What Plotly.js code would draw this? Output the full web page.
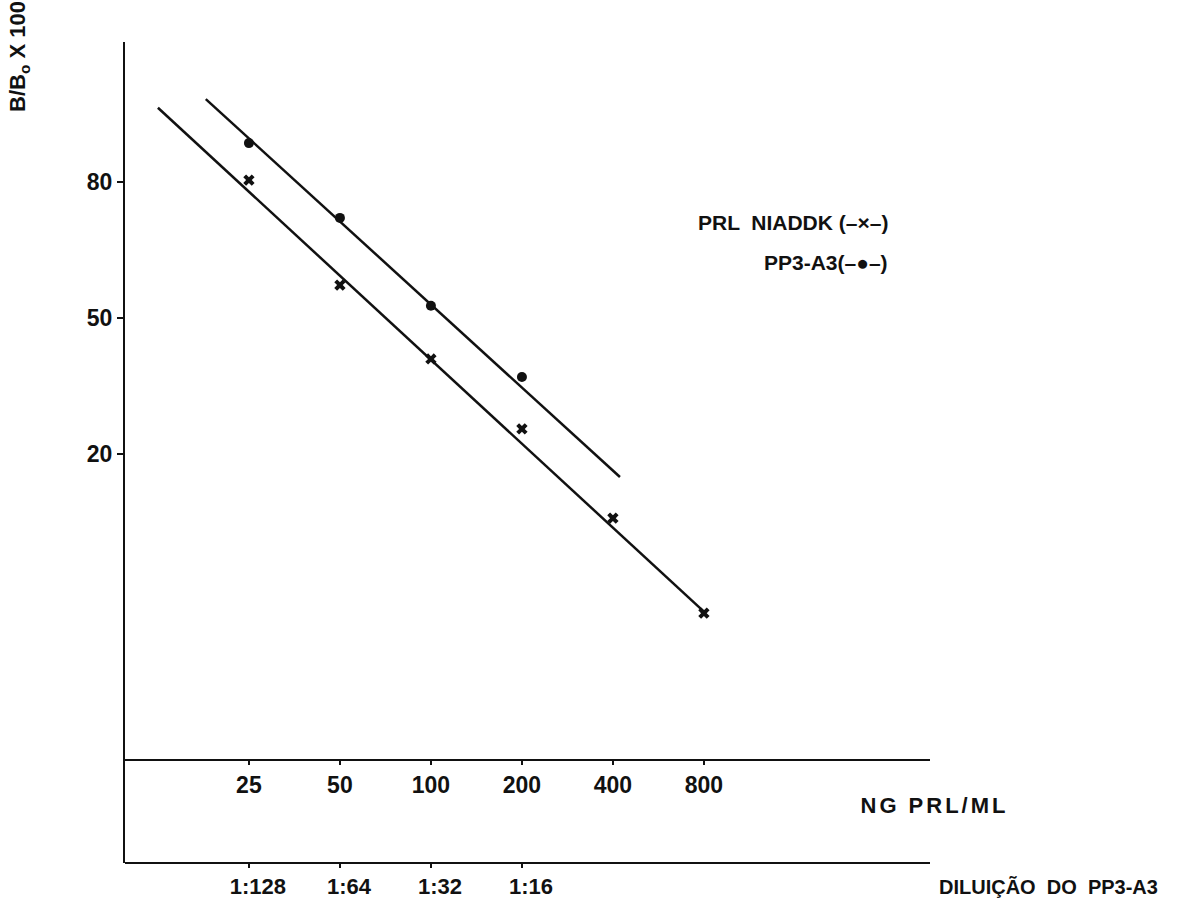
<!DOCTYPE html>
<html>
<head>
<meta charset="utf-8">
<script src="https://cdn.plot.ly/plotly-3.0.1.min.js"></script>
<style>html,body{margin:0;padding:0;background:#fff;}#chart{width:1177px;height:908px;}</style>
</head>
<body>
<div id="chart"></div>
<script>
// ---- data ----
const ngDoses = [25, 50, 100, 200, 400, 800];            // NG PRL/ML
const prlNiaddk = [80.3, 58.3, 39.7, 24.4, 11.5, 4.7];     // B/Bo x 100, standard
const pp3Doses = [25, 50, 100, 200];                       // positions of dilutions
const pp3A3 = [85.6, 73.5, 53.1, 35.4];                    // B/Bo x 100, PP3-A3
const dilutionLabels = ['1:128', '1:64', '1:32', '1:16'];
const prlFitX = [12.5, 810];
const prlFitY = [89.5, 4.7];
const pp3FitX = [18.0, 422];
const pp3FitY = [90.3, 16.5];
const yTickVals = [20, 50, 80];

// logit transform for the B/Bo scale
const logit = p => Math.log(p / (100 - p));

const FONT = 'Liberation Sans, Arial, sans-serif';
const INK = '#111';
const F = (size) => ({family: FONT, size: size, color: INK, weight: 'bold'});

const traces = [
  {x: prlFitX, y: prlFitY.map(logit), mode: 'lines', line: {color: INK, width: 2.5}, xaxis: 'x', yaxis: 'y', hoverinfo: 'skip'},
  {x: pp3FitX, y: pp3FitY.map(logit), mode: 'lines', line: {color: INK, width: 2.5}, xaxis: 'x2', yaxis: 'y', hoverinfo: 'skip'},
  {x: ngDoses, y: prlNiaddk.map(logit), mode: 'markers', name: 'PRL NIADDK',
   marker: {symbol: 'x', size: 10, color: INK, line: {width: 0}}, xaxis: 'x', yaxis: 'y'},
  {x: pp3Doses, y: pp3A3.map(logit), mode: 'markers', name: 'PP3-A3',
   marker: {symbol: 'circle', size: 10, color: INK}, xaxis: 'x2', yaxis: 'y'}
];

const L = 125, R = 930, T = 42, B = 863, W = 1177, H = 908;
const px = v => (v - L) / (R - L);
const py = v => (B - v) / (B - T);

const xRange = [0.988, 3.651];
const yRange = [-5.556, 2.813];

const layout = {
  width: W, height: H,
  margin: {l: L, r: W - R, t: T, b: H - B, pad: 0},
  paper_bgcolor: '#fff', plot_bgcolor: '#fff',
  showlegend: false,
  font: F(23),
  xaxis: {
    type: 'log', range: xRange, anchor: 'free', position: py(760),
    showgrid: false, zeroline: false, showline: true, linecolor: INK, linewidth: 2,
    ticks: 'outside', ticklen: 4, tickwidth: 2, tickcolor: INK,
    tickvals: ngDoses, ticktext: ngDoses.map(String),
    tickfont: F(23)
  },
  xaxis2: {
    type: 'log', range: xRange, overlaying: 'x', anchor: 'free', position: 0,
    showgrid: false, zeroline: false, showline: true, linecolor: INK, linewidth: 2,
    ticks: 'outside', ticklen: 4, tickwidth: 2, tickcolor: INK,
    tickvals: pp3Doses, ticktext: dilutionLabels, ticklabelshift: 9,
    tickfont: F(22)
  },
  yaxis: {
    range: yRange,
    showgrid: false, zeroline: false, showline: true, linecolor: INK, linewidth: 2,
    ticks: 'outside', ticklen: 6, tickwidth: 2, tickcolor: INK,
    tickvals: yTickVals.map(logit), ticktext: yTickVals.map(String),
    tickfont: F(23)
  },
  annotations: [
    {text: 'B/B<sub>o</sub> X 100', textangle: -90, xref: 'paper', yref: 'paper',
     x: px(19), y: py(57), xanchor: 'center', yanchor: 'middle', showarrow: false,
     font: F(22)},
    {text: 'PRL  NIADDK (\u2013\u00d7\u2013)', xref: 'paper', yref: 'paper',
     x: px(890), y: py(222), xanchor: 'right', yanchor: 'middle', showarrow: false,
     font: F(21)},
    {text: 'PP3-A3(\u2013\u25cf\u2013)', xref: 'paper', yref: 'paper',
     x: px(890), y: py(262), xanchor: 'right', yanchor: 'middle', showarrow: false,
     font: F(21)},
    {text: 'NG PRL/ML', xref: 'paper', yref: 'paper',
     x: px(872), y: py(805), xanchor: 'left', yanchor: 'middle', showarrow: false,
     font: F(22)},
    {text: 'DILUIÇÃO  DO  PP3-A3', xref: 'paper', yref: 'paper',
     x: px(937), y: py(887), xanchor: 'left', yanchor: 'middle', showarrow: false,
     font: F(20)}
  ]
};

Plotly.newPlot('chart', traces, layout, {staticPlot: true, displayModeBar: false}).then(gd => {
  // widen the letter spacing of the x-axis unit label, as in the typed original
  gd.querySelectorAll('.annotation-text').forEach(t => {
    if (t.textContent.indexOf('NG') === 0) t.style.letterSpacing = '3px';
  });
});
</script>
</body>
</html>
